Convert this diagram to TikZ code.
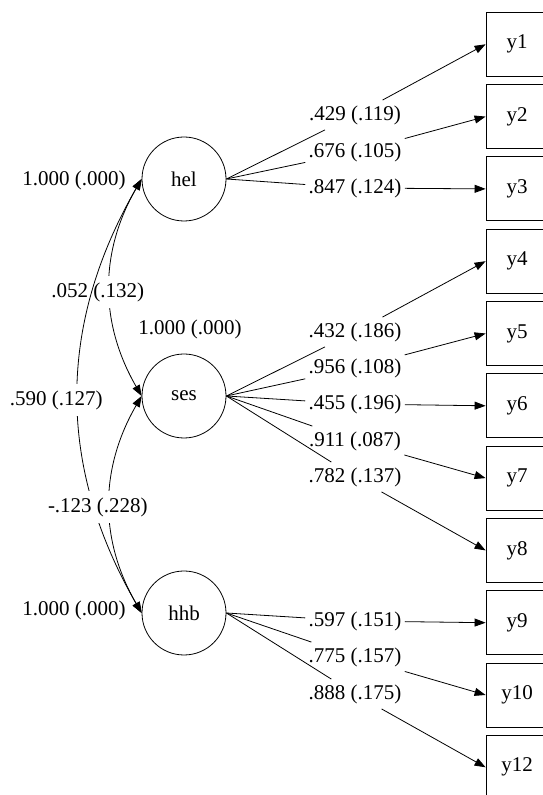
\documentclass[tikz,border=0pt]{standalone}
\usepackage{fontspec}
\setmainfont{Liberation Serif}
\usetikzlibrary{arrows.meta}
\usetikzlibrary{positioning}

\begin{document}
\begin{tikzpicture}[x=1pt, y=1pt, line width=0.8pt,
        font=\fontsize{21}{24}\selectfont,
        latent/.style={circle, draw, minimum size=84pt, inner sep=0pt},
        observed/.style={rectangle, draw, minimum width=62pt, minimum height=64pt, inner sep=0pt},
        loading/.style={inner xsep=3pt, inner ysep=5pt},
        covlab/.style={fill=white, inner xsep=1pt, inner ysep=6pt},
        onearrow/.style={-{Triangle[length=11pt, width=8pt]}},
        twoarrow/.style={{Triangle[length=11pt, width=8pt]}-{Triangle[length=11pt, width=8pt]}}]
                \useasboundingbox (0, 0) rectangle (543, 795);

                \node[latent] (hel) at (184, 616) {hel};
                \node[latent] (ses) at (184, 399) {ses};
                \node[latent] (hhb) at (184, 182) {hhb};

                \node[observed] (y1) at (517, 750.7) {y1};
                \node[observed] (y2) at (517, 678.4) {y2};
                \node[observed] (y3) at (517, 606.1) {y3};
                \node[observed] (y4) at (517, 533.8) {y4};
                \node[observed] (y5) at (517, 461.5) {y5};
                \node[observed] (y6) at (517, 389.2) {y6};
                \node[observed] (y7) at (517, 316.9) {y7};
                \node[observed] (y8) at (517, 244.6) {y8};
                \node[observed] (y9) at (517, 172.3) {y9};
                \node[observed] (y10) at (517, 100) {y10};
                \node[observed] (y12) at (517, 27.7) {y12};

                \node[loading] (l1) at (355, 680) {.429 (.119)};
                \node[loading] (l2) at (355, 643) {.676 (.105)};
                \node[loading] (l3) at (355, 607) {.847 (.124)};
                \node[loading] (l4) at (355, 463) {.432 (.186)};
                \node[loading] (l5) at (355, 427) {.956 (.108)};
                \node[loading] (l6) at (355, 391) {.455 (.196)};
                \node[loading] (l7) at (355, 354) {.911 (.087)};
                \node[loading] (l8) at (355, 318) {.782 (.137)};
                \node[loading] (l9) at (355, 174) {.597 (.151)};
                \node[loading] (l10) at (355, 138) {.775 (.157)};
                \node[loading] (l12) at (355, 101) {.888 (.175)};

                \draw (hel.east) -- (l1);  \draw[onearrow] (l1) -- (y1.west);
                \draw (hel.east) -- (l2);  \draw[onearrow] (l2) -- (y2.west);
                \draw (hel.east) -- (l3);  \draw[onearrow] (l3) -- (y3.west);
                \draw (ses.east) -- (l4);  \draw[onearrow] (l4) -- (y4.west);
                \draw (ses.east) -- (l5);  \draw[onearrow] (l5) -- (y5.west);
                \draw (ses.east) -- (l6);  \draw[onearrow] (l6) -- (y6.west);
                \draw (ses.east) -- (l7);  \draw[onearrow] (l7) -- (y7.west);
                \draw (ses.east) -- (l8);  \draw[onearrow] (l8) -- (y8.west);
                \draw (hhb.east) -- (l9);  \draw[onearrow] (l9) -- (y9.west);
                \draw (hhb.east) -- (l10); \draw[onearrow] (l10) -- (y10.west);
                \draw (hhb.east) -- (l12); \draw[onearrow] (l12) -- (y12.west);

                \node (vhel) at (74, 615) {1.000 (.000)};
                \node (vses) at (190, 466) {1.000 (.000)};
                \node (vhhb) at (74, 185) {1.000 (.000)};

                \draw[twoarrow] (hel.west) to[out=240, in=120] node[covlab, xshift=-12pt, yshift=-4.5pt] {.052 (.132)} (ses.west);
                \draw[twoarrow] (hel.west) to[out=240, in=120] node[covlab, xshift=-22pt, yshift=-4pt] {.590 (.127)} (hhb.west);
                \draw[twoarrow] (ses.west) to[out=240, in=120] node[covlab, xshift=-12pt, yshift=-2.5pt] {-.123 (.228)} (hhb.west);
            \end{tikzpicture}
\end{document}
